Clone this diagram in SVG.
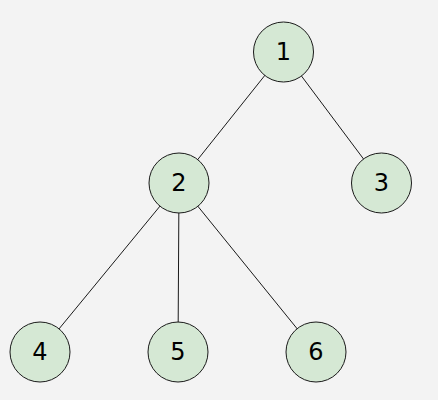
<svg xmlns="http://www.w3.org/2000/svg" width="438" height="400" viewBox="0 0 438 400">
<style>
.n circle{fill:#d5e8d4;stroke:#1a1a1a;stroke-width:1}
.n text{font-family:"DejaVu Sans","Noto Sans",sans-serif;font-size:24px;fill:#000;text-anchor:middle;dominant-baseline:central}
.e line{stroke:#1a1a1a;stroke-width:1}
</style>
<rect width="438" height="400" fill="#f3f3f3"/>
<g id="edges" class="e">
<line x1="283.5" y1="52" x2="179" y2="183"/>
<line x1="283.5" y1="52" x2="381.5" y2="183"/>
<line x1="179" y1="183" x2="40" y2="352"/>
<line x1="179" y1="183" x2="178" y2="352"/>
<line x1="179" y1="183" x2="316" y2="352"/>
</g>
<g id="n1" class="n"><circle cx="283.5" cy="52" r="30"/><text x="283.5" y="52">1</text></g>
<g id="n2" class="n"><circle cx="179" cy="183" r="30"/><text x="179" y="183">2</text></g>
<g id="n3" class="n"><circle cx="381.5" cy="183" r="30"/><text x="381.5" y="183">3</text></g>
<g id="n4" class="n"><circle cx="40" cy="352" r="30"/><text x="40" y="352">4</text></g>
<g id="n5" class="n"><circle cx="178" cy="352" r="30"/><text x="178" y="352">5</text></g>
<g id="n6" class="n"><circle cx="316" cy="352" r="30"/><text x="316" y="352">6</text></g>
</svg>
